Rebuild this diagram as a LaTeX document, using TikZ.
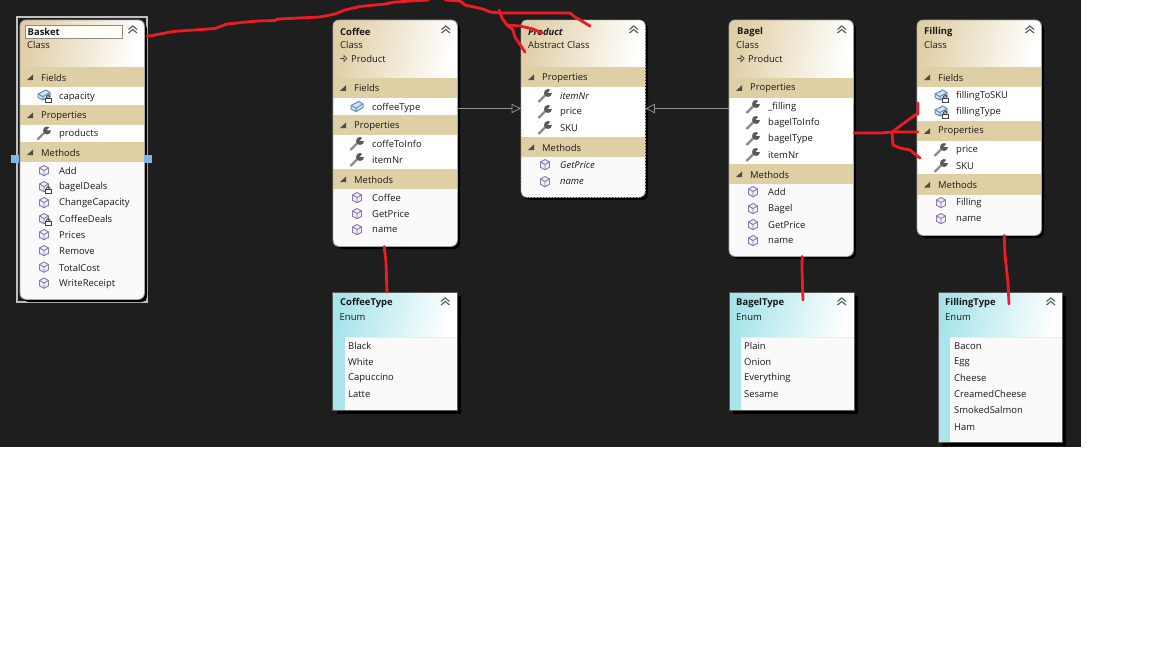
\documentclass[tikz,border=0pt]{standalone}
\usepackage{fontspec}
\setmainfont{Open Sans}
\usetikzlibrary{arrows.meta}
\definecolor{canvas}{HTML}{1E1E1E}
\definecolor{bandtan}{HTML}{DFCFA4}
\definecolor{headtan}{HTML}{E0CFA6}
\definecolor{headcyan}{HTML}{A6E4EA}
\definecolor{paintred}{HTML}{ED1C24}
\definecolor{cubeline}{HTML}{8C74AE}
\definecolor{fieldline}{HTML}{5C8FC4}
\definecolor{toolgrey}{HTML}{5A5A5A}
\definecolor{handleblue}{HTML}{7FB6E6}
\newcounter{lbl}
\newcommand\fs{\fontsize{9.45}{11}\selectfont}
\tikzset{
  classbody/.style={fill=white!98!black,rounded corners=6pt,inner sep=0pt,minimum width=124pt,anchor=north west},
  classedge/.style={draw=black!35,line width=0.8pt,rounded corners=6pt},
  shadowbox/.style={fill=black,rounded corners=6pt},
  enumbody/.style={fill=white!98!black,inner sep=0pt,minimum width=124pt,anchor=north west},
  enumedge/.style={draw=black!65,line width=0.9pt},
  txt/.style={inner sep=0pt,anchor=west,font=\fs,text=black!90},
  boldtxt/.style={font=\fs\bfseries},
  italtxt/.style={font=\fs\itshape},
  inherit/.style={draw=black!42,line width=0.8pt,-{Triangle[open,length=9.5pt,width=9.5pt]}},
  scribble/.style={draw=paintred,line width=2.8pt,line join=round,line cap=round},
  chev/.style={draw=black!62,line width=1.2pt,line join=miter},
}
\newcommand\lbl[4][]{\stepcounter{lbl}\node[txt,#1] (t\arabic{lbl}) at ({#2},{#3+0.7}) {#4};}
\newcommand\chevrons[2]{%
  \draw[chev] ({#1+108.5},{#2+9.5}) -- ({#1+112.75},{#2+6}) -- ({#1+117},{#2+9.5});
  \draw[chev] ({#1+108.5},{#2+13}) -- ({#1+112.75},{#2+9.5}) -- ({#1+117},{#2+13});}
% name x y height header-height
\newcommand\classbox[5]{%
  \fill[shadowbox] ({#2+3},{#3+3}) rectangle ({#2+127},{#3+#4+3});
  \node[classbody,minimum height=#4 pt] (#1) at (#2,#3) {};
  \begin{scope}
    \clip[rounded corners=6pt] (#2,#3) rectangle ({#2+124},{#3+#4});
    \shade[left color=headtan,right color=white,shading angle=78] (#2,#3) rectangle ({#2+124},{#3+#5});
  \end{scope}}
\newcommand\band[4]{%
  \fill[bandtan] (#1,#2) rectangle ({#1+124},#3);
  \fill[black!70] ({#1+7},{(#2+#3)/2+3}) -- ({#1+13},{(#2+#3)/2+3}) -- ({#1+13},{(#2+#3)/2-2.5}) -- cycle;
  \lbl{#1+21}{(#2+#3)/2}{#4}}
\newcommand\wrenchicon[2]{%
  \begin{scope}[shift={(#1,#2)}]
    \draw[toolgrey!70,line width=2.2pt,line cap=round] (-6,6) -- (1,-1);
    \fill[toolgrey] (3,-2.5) circle (4);
    \fill[white] (5.2,-5.4) -- (2.7,-2.8) -- (7.4,-2.6) -- (7.4,-7) -- cycle;
  \end{scope}}
\newcommand\cubeicon[2]{%
  \begin{scope}[shift={(#1,#2)}]
    \draw[cubeline,fill=cubeline!12,line width=0.9pt,line join=round] (0,-5) -- (4.5,-2.5) -- (4.5,2.8) -- (0,5.3) -- (-4.5,2.8) -- (-4.5,-2.5) -- cycle;
    \draw[cubeline,line width=0.9pt] (-4.5,-2.5) -- (0,0) -- (4.5,-2.5) (0,0) -- (0,5.3);
  \end{scope}}
\newcommand\fieldicon[2]{%
  \begin{scope}[shift={(#1,#2)}]
    \draw[fieldline,fill=fieldline!25,line width=1pt,line join=round] (-6,-1) -- (2,-5) -- (6,-2.5) -- (6,1) -- (-1,5) -- (-6,2.5) -- cycle;
    \draw[fieldline,line width=1pt] (-6,-1) -- (-1,1.6) -- (6,-2.5) (-1,1.6) -- (-1,5);
  \end{scope}}
\newcommand\lockicon[2]{%
  \begin{scope}[shift={(#1,#2)}]
    \draw[black!70,line width=0.9pt] (2.5,3) -- (2.5,1.5) arc[start angle=180,end angle=360,radius=1.7] -- (5.9,3);
    \draw[black!75,fill=white,line width=0.8pt] (1,3) rectangle (7.2,7.2);
  \end{scope}}
\newcommand\prodline[2]{%
  \draw[black!75,line width=0.7pt] (#1,#2) -- ({#1+4},#2);
  \draw[black!75,line width=0.7pt] ({#1+4},{#2-3}) -- ({#1+7},#2) -- ({#1+4},{#2+3}) -- cycle;
  \lbl{#1+11}{#2}{Product}}
\newcommand\enumbox[5]{%
  \fill[black] ({#2+4},{#3+4}) rectangle ({#2+#5+4},{#3+#4+4});
  \node[enumbody,minimum width=#5 pt,minimum height=#4 pt] (#1) at (#2,#3) {};
  \shade[left color=headcyan,right color=white,shading angle=78] (#2,#3) rectangle ({#2+#5},{#3+45});
  \fill[headcyan!95!white] (#2,{#3+45}) rectangle ({#2+12},{#3+#4});
  \draw[black!8] ({#2+12},{#3+45}) -- ({#2+#5},{#3+45});
  \draw[enumedge] (#1.north west) rectangle (#1.south east);
  \chevrons{#2}{#3}
  \lbl{#2+7}{#3+24.5}{Enum}}
\begin{document}
\begin{tikzpicture}[x=1pt,y=-1pt]
\useasboundingbox (0,0) rectangle (1152,648);
\fill[white] (0,0) rectangle (1152,648);
\fill[canvas] (0,0) rectangle (1081,447);

%% Basket
\draw[black!25,line width=1.2pt] (17,17) rectangle (147,302);
\classbox{basket}{20}{20}{279}{46.5}
\fill[white] (20,87) rectangle (144,105);
\fill[white] (20,125) rectangle (144,142);
\band{20}{67}{87}{Fields}
\band{20}{105}{125}{Properties}
\band{20}{142}{162}{Methods}
\draw[classedge] (basket.north west) rectangle (basket.south east);
\chevrons{20}{20}
\fill[white!96!yellow,draw=black!45,line width=0.9pt] (25.5,25) rectangle (122,38);
\lbl[boldtxt]{27.5}{31}{Basket}
\lbl{27}{44.5}{Class}
\fieldicon{44}{95}\lockicon{44}{95}\lbl{59}{96}{capacity}
\wrenchicon{44}{133}\lbl{59}{133.5}{products}
\cubeicon{44}{170.5}\lbl{59}{170.5}{Add}
\cubeicon{44}{186.5}\lockicon{44}{186.5}\lbl{59}{186.5}{bagelDeals}
\cubeicon{44}{202.5}\lbl{59}{202.5}{ChangeCapacity}
\cubeicon{44}{218.5}\lockicon{44}{218.5}\lbl{59}{218.5}{CoffeeDeals}
\cubeicon{44}{234.5}\lbl{59}{234.5}{Prices}
\cubeicon{44}{250.5}\lbl{59}{250.5}{Remove}
\cubeicon{44}{267}\lbl{59}{267}{TotalCost}
\cubeicon{44}{283}\lbl{59}{283}{WriteReceipt}
\fill[handleblue] (11,155) rectangle (19,163);
\fill[handleblue] (144,155) rectangle (152,163);

%% Coffee
\classbox{coffee}{333}{20}{226}{57.5}
\fill[white] (333,98) rectangle (457,115);
\fill[white] (333,135) rectangle (457,169);
\band{333}{77.5}{98}{Fields}
\band{333}{115}{135}{Properties}
\band{333}{169}{189}{Methods}
\draw[classedge] (coffee.north west) rectangle (coffee.south east);
\chevrons{333}{20}
\lbl[boldtxt]{340}{31}{Coffee}
\lbl{340}{44.5}{Class}
\prodline{340}{58.5}
\fieldicon{357}{106.5}\lbl{372}{107}{coffeeType}
\wrenchicon{357}{143.5}\lbl{372}{143.5}{coffeToInfo}
\wrenchicon{357}{159.5}\lbl{372}{159.5}{itemNr}
\cubeicon{357}{197.5}\lbl{372}{197.5}{Coffee}
\cubeicon{357}{213.5}\lbl{372}{213.5}{GetPrice}
\cubeicon{357}{229.5}\lbl{372}{229.5}{name}

%% Product
\classbox{product}{521}{20}{177}{46.5}
\fill[white] (521,87) rectangle (645,137);
\band{521}{67}{87}{Properties}
\band{521}{137}{157}{Methods}
\draw[classedge,dash pattern=on 2pt off 1pt] (product.north west) rectangle (product.south east);
\chevrons{521}{20}
\lbl[font=\fs\bfseries\itshape]{528}{31}{Product}
\lbl{528}{44.5}{Abstract Class}
\wrenchicon{545}{95.5}\lbl[italtxt]{560}{95.5}{itemNr}
\wrenchicon{545}{111.5}\lbl{560}{111.5}{price}
\wrenchicon{545}{127.5}\lbl{560}{127.5}{SKU}
\cubeicon{545}{164.5}\lbl[italtxt]{560}{164.5}{GetPrice}
\cubeicon{545}{181.5}\lbl[italtxt]{560}{181.5}{name}

%% Bagel
\classbox{bagel}{729}{20}{236}{57.5}
\fill[white] (729,98) rectangle (853,164);
\band{729}{77.5}{98}{Properties}
\band{729}{164}{184}{Methods}
\draw[classedge] (bagel.north west) rectangle (bagel.south east);
\chevrons{729}{20}
\lbl[boldtxt]{737}{31}{Bagel}
\lbl{736}{44.5}{Class}
\prodline{737}{58.5}
\wrenchicon{753}{106.5}\lbl{768}{106.5}{\_filling}
\wrenchicon{753}{122.5}\lbl{768}{122.5}{bagelToInfo}
\wrenchicon{753}{138.5}\lbl{768}{138.5}{bagelType}
\wrenchicon{753}{154.5}\lbl{768}{154.5}{itemNr}
\cubeicon{753}{191.5}\lbl{768}{191.5}{Add}
\cubeicon{753}{208.5}\lbl{768}{208.5}{Bagel}
\cubeicon{753}{224.5}\lbl{768}{224.5}{GetPrice}
\cubeicon{753}{240.5}\lbl{768}{240.5}{name}

%% Filling
\classbox{filling}{917}{20}{215}{46.5}
\fill[white] (917,87) rectangle (1041,120.5);
\fill[white] (917,141) rectangle (1041,174);
\band{917}{67}{87}{Fields}
\band{917}{120.5}{141}{Properties}
\band{917}{174}{195}{Methods}
\draw[classedge] (filling.north west) rectangle (filling.south east);
\chevrons{917}{20}
\lbl[boldtxt]{924}{31}{Filling}
\lbl{924}{44.5}{Class}
\fieldicon{941}{95}\lockicon{941}{95}\lbl{956}{95.5}{fillingToSKU}
\fieldicon{941}{111}\lockicon{941}{111}\lbl{956}{111.5}{fillingType}
\wrenchicon{941}{149.5}\lbl{956}{149.5}{price}
\wrenchicon{941}{165.5}\lbl{956}{165.5}{SKU}
\cubeicon{941}{202.5}\lbl{956}{202.5}{Filling}
\cubeicon{941}{218.5}\lbl{956}{218.5}{name}

%% Enums
\enumbox{coffeetype}{332.5}{292}{118}{124.5}
\lbl[boldtxt]{340}{302}{CoffeeType}
\lbl{348}{345.5}{Black}\lbl{348}{361.5}{White}\lbl{348}{377.5}{Capuccino}\lbl{348}{393.5}{Latte}

\enumbox{bageltype}{729}{292}{118}{125}
\lbl[boldtxt]{736}{302}{BagelType}
\lbl{744}{345.5}{Plain}\lbl{744}{361.5}{Onion}\lbl{744}{377.5}{Everything}\lbl{744}{393.5}{Sesame}

\enumbox{fillingtype}{938}{292}{150}{124}
\lbl[boldtxt]{945}{302}{FillingType}
\lbl{954}{345.5}{Bacon}\lbl{954}{361.5}{Egg}\lbl{954}{377.5}{Cheese}\lbl{954}{393.5}{CreamedCheese}\lbl{954}{409.5}{SmokedSalmon}\lbl{954}{426}{Ham}

%% Inheritance connectors
\coordinate (coffeeout) at ([yshift=-88.5pt]coffee.north east);
\coordinate (bagelout) at ([yshift=-88.5pt]bagel.north west);
\coordinate (prodleft) at ([yshift=-88.5pt]product.north west);
\coordinate (prodright) at ([yshift=-88.5pt]product.north east);
\draw[inherit] (coffeeout) -- (prodleft);
\draw[inherit] (bagelout) -- (prodright);

%% Red hand-drawn marks
\coordinate (basketred) at (147,36.5);
\coordinate (prodA) at (525,52);
\coordinate (prodB) at (590,26);
\coordinate (prodC) at (542,33);
\coordinate (coffeered) at ([xshift=-11pt]coffee.south);
\coordinate (coffeetypered) at ([xshift=-8pt]coffeetype.north);
\coordinate (bagelred) at ([xshift=11pt]bagel.south);
\coordinate (fillingred) at ([xshift=25pt]filling.south);
\draw[scribble] (basketred) -- (173,31.5) -- (215,28.5) -- (227,24) -- (257,21) -- (275,20.5) -- (278,19) -- (320,17) -- (335,14) -- (345,10) -- (360,6.5) -- (385,4) -- (395,2) -- (428,0);
\draw[scribble] (445,0) -- (460,1) -- (465,5) -- (483,9) -- (490,12) -- (500,13) -- (570,13) -- (575,17) -- (prodB);
\draw[scribble] (499,10) -- (502,18) -- (507,25) -- (513,30) -- (515,37) -- (prodA);
\draw[scribble] (507,25) -- (520,26) -- (533,29) -- (prodC);
\draw[scribble] (coffeered) -- (386,262) -- (coffeetypered);
\draw[scribble] (bagelred) -- (802,268) -- (803,300);
\draw[scribble] (fillingred) -- (1005,255) -- (1008,283) -- (1009,304);
\draw[scribble] (854,133) -- (881,133) -- (892,132) -- (918,132);
\draw[scribble] (892,132) -- (915,115) -- (918,114) -- (918,103);
\draw[scribble] (892,132) -- (893,145) -- (900,148) -- (910,150) -- (920,158);
\end{tikzpicture}
\end{document}
